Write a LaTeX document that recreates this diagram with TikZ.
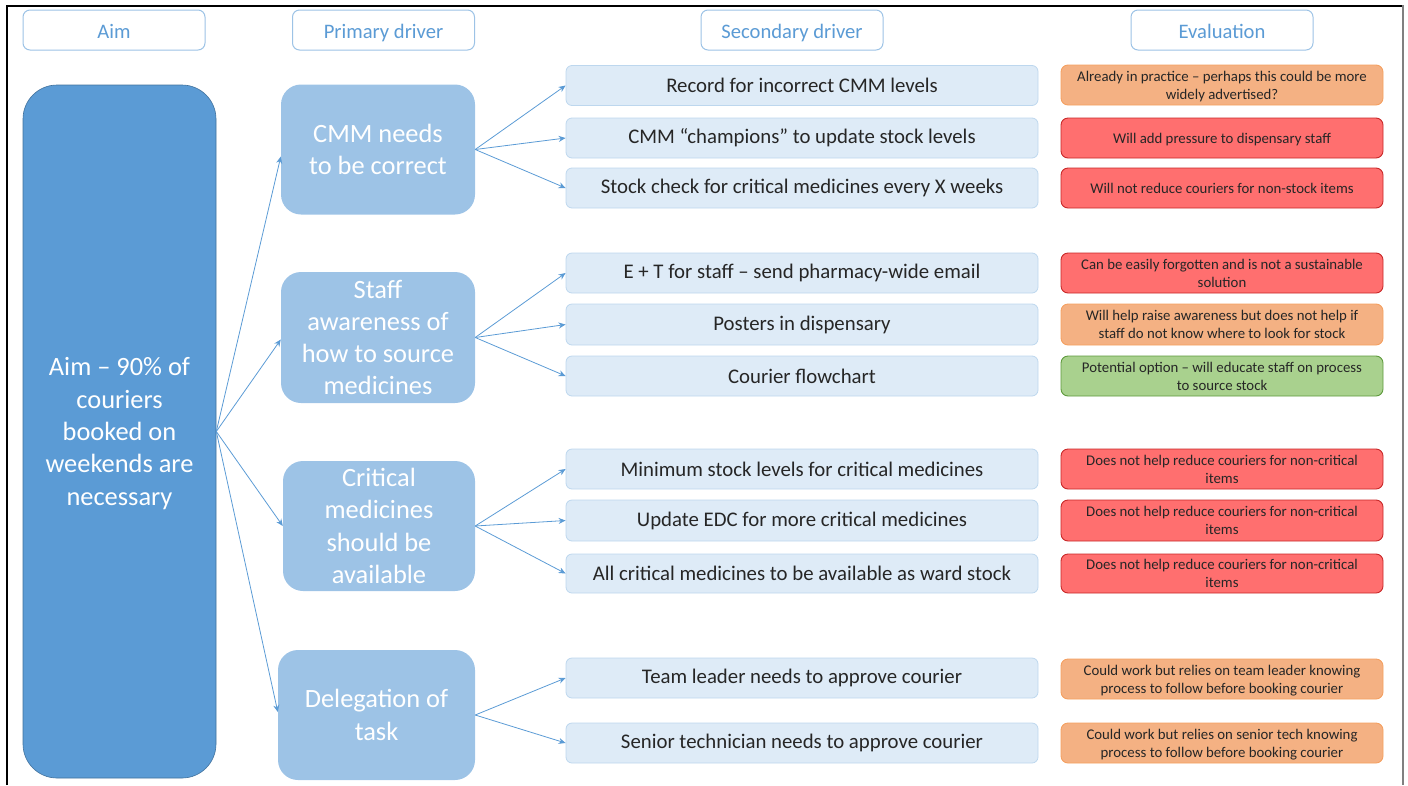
\documentclass[tikz,border=0pt]{standalone}
\usepackage{fontspec}
\setmainfont{Carlito}
\usetikzlibrary{arrows.meta}
\definecolor{aimblue}{HTML}{5B9BD5}
\definecolor{aimedge}{HTML}{41719C}
\definecolor{primfill}{HTML}{9DC3E6}
\definecolor{secfill}{HTML}{DEEBF7}
\definecolor{secedge}{HTML}{BDD7EE}
\definecolor{hdredge}{HTML}{9DC3E6}
\definecolor{hdrtext}{HTML}{5B9BD5}
\definecolor{linkblue}{HTML}{5B9BD5}
\definecolor{inktext}{HTML}{262626}
\definecolor{amberfill}{HTML}{F4B183}
\definecolor{amberedge}{HTML}{F4A060}
\definecolor{redfill}{HTML}{FF6F6F}
\definecolor{rededge}{HTML}{C82828}
\definecolor{greenfill}{HTML}{A9D18E}
\definecolor{greenedge}{HTML}{5E9A3C}
\definecolor{framegray}{HTML}{808080}

\begin{document}
\begin{tikzpicture}[x=1pt,y=-1pt,
  hdr/.style={draw=hdredge, line width=1pt, fill=white, rounded corners=7pt,
    minimum width=182pt, minimum height=40pt, inner sep=0pt, text=hdrtext,
    text height=18pt, text depth=2pt,
    font=\fontsize{20.6}{24}\selectfont},
  aimbox/.style={fill=aimblue, draw=aimedge, line width=0.6pt, rounded corners=34pt,
    minimum width=193pt, minimum height=693pt, inner sep=0pt, text=white,
    align=center, text depth=0pt, font=\fontsize{26.4}{32.3}\selectfont},
  primbox/.style={fill=primfill, rounded corners=20pt, minimum height=130pt,
    inner sep=0pt, text=white, align=center, font=\fontsize{26.4}{32.3}\selectfont},
  secbox/.style={fill=secfill, draw=secedge, line width=0.8pt, rounded corners=6pt,
    minimum width=472pt, minimum height=40pt, inner sep=0pt, text=inktext,
    font=\fontsize{20.8}{24}\selectfont},
  evalbox/.style={rounded corners=7pt, line width=0.9pt, minimum width=322pt,
    minimum height=40pt, inner sep=0pt, text=inktext, align=center,
    text depth=0pt, font=\fontsize{14.8}{18}\selectfont},
  amber/.style={evalbox, fill=amberfill, draw=amberedge},
  redbox/.style={evalbox, fill=redfill, draw=rededge},
  greenbox/.style={evalbox, fill=greenfill, draw=greenedge},
  link/.style={draw=linkblue, line width=0.8pt, -{Stealth[length=7pt,width=6pt]}}
]
\useasboundingbox (0,0) rectangle (1408,785);

% page frame
\draw[black, line width=1.2pt] (7,785) -- (7,6) -- (1403,6);
\draw[framegray, line width=2.5pt] (1403,5) -- (1403,785);

% column headers
\node[hdr] (hAim) at (114,30) {Aim};
\node[hdr] (hPrim) at (383.5,30) {Primary driver};
\node[hdr] (hSec) at (792,30) {Secondary driver};
\node[hdr] (hEval) at (1222,30) {Evaluation};

% aim
\node[aimbox] (aim) at (119.5,431.5) {Aim – 90\% of\\couriers\\booked on\\weekends are\\necessary};

% primary drivers
\node[primbox, minimum width=194pt] (p1) at (378,149.5) {CMM needs\\to be correct};
\node[primbox, minimum width=194pt, minimum height=131pt] (p2) at (378,337.5) {Staff\\awareness of\\how to source\\medicines};
\node[primbox, minimum width=192pt] (p3) at (379,526) {Critical\\medicines\\should be\\available};
\node[primbox, minimum width=197pt] (p4) at (376.5,715) {Delegation of\\task};

% secondary drivers
\node[secbox] (s1) at (802,85.5) {Record for incorrect CMM levels};
\node[secbox] (s2) at (802,138) {CMM “champions” to update stock levels};
\node[secbox] (s3) at (802,188) {Stock check for critical medicines every X weeks};
\node[secbox] (s4) at (802,273) {E + T for staff – send pharmacy-wide email};
\node[secbox, minimum height=41pt] (s5) at (802,324.5) {Posters in dispensary};
\node[secbox] (s6) at (802,376) {Courier flowchart};
\node[secbox] (s7) at (802,469) {Minimum stock levels for critical medicines};
\node[secbox, minimum height=41pt] (s8) at (802,520.5) {Update EDC for more critical medicines};
\node[secbox, minimum height=39pt] (s9) at (802,573.5) {All critical medicines to be available as ward stock};
\node[secbox] (s10) at (802,678) {Team leader needs to approve courier};
\node[secbox] (s11) at (802,743) {Senior technician needs to approve courier};

% evaluation
\node[amber] (e1) at (1222,85) {Already in practice – perhaps this could be more\\widely advertised?};
\node[redbox] (e2) at (1222,138) {Will add pressure to dispensary staff};
\node[redbox] (e3) at (1222,188) {Will not reduce couriers for non-stock items};
\node[redbox] (e4) at (1222,273) {Can be easily forgotten and is not a sustainable\\solution};
\node[amber, minimum height=41pt] (e5) at (1222,324.5) {Will help raise awareness but does not help if\\staff do not know where to look for stock};
\node[greenbox] (e6) at (1222,376) {Potential option – will educate staff on process\\to source stock};
\node[redbox] (e7) at (1222,469) {Does not help reduce couriers for non-critical\\items};
\node[redbox, minimum height=41pt] (e8) at (1222,520.5) {Does not help reduce couriers for non-critical\\items};
\node[redbox, minimum height=39pt] (e9) at (1222,573.5) {Does not help reduce couriers for non-critical\\items};
\node[amber] (e10) at (1222,679) {Could work but relies on team leader knowing\\process to follow before booking courier};
\node[amber] (e11) at (1222,743) {Could work but relies on senior tech knowing\\process to follow before booking courier};

% aim to primary drivers
\draw[link] (aim.east) -- ([yshift=-7pt]p1.west);
\draw[link] (aim.east) -- ([yshift=-2pt]p2.west);
\draw[link] (aim.east) -- (p3.west);
\draw[link] (aim.east) -- ([yshift=3pt]p4.west);

% primary to secondary drivers
\draw[link] (p1.east) -- (s1.west);
\draw[link] (p1.east) -- (s2.west);
\draw[link] (p1.east) -- (s3.west);
\draw[link] (p2.east) -- (s4.west);
\draw[link] (p2.east) -- (s5.west);
\draw[link] (p2.east) -- (s6.west);
\draw[link] (p3.east) -- (s7.west);
\draw[link] (p3.east) -- (s8.west);
\draw[link] (p3.east) -- (s9.west);
\draw[link] (p4.east) -- (s10.west);
\draw[link] (p4.east) -- (s11.west);
\end{tikzpicture}
\end{document}
